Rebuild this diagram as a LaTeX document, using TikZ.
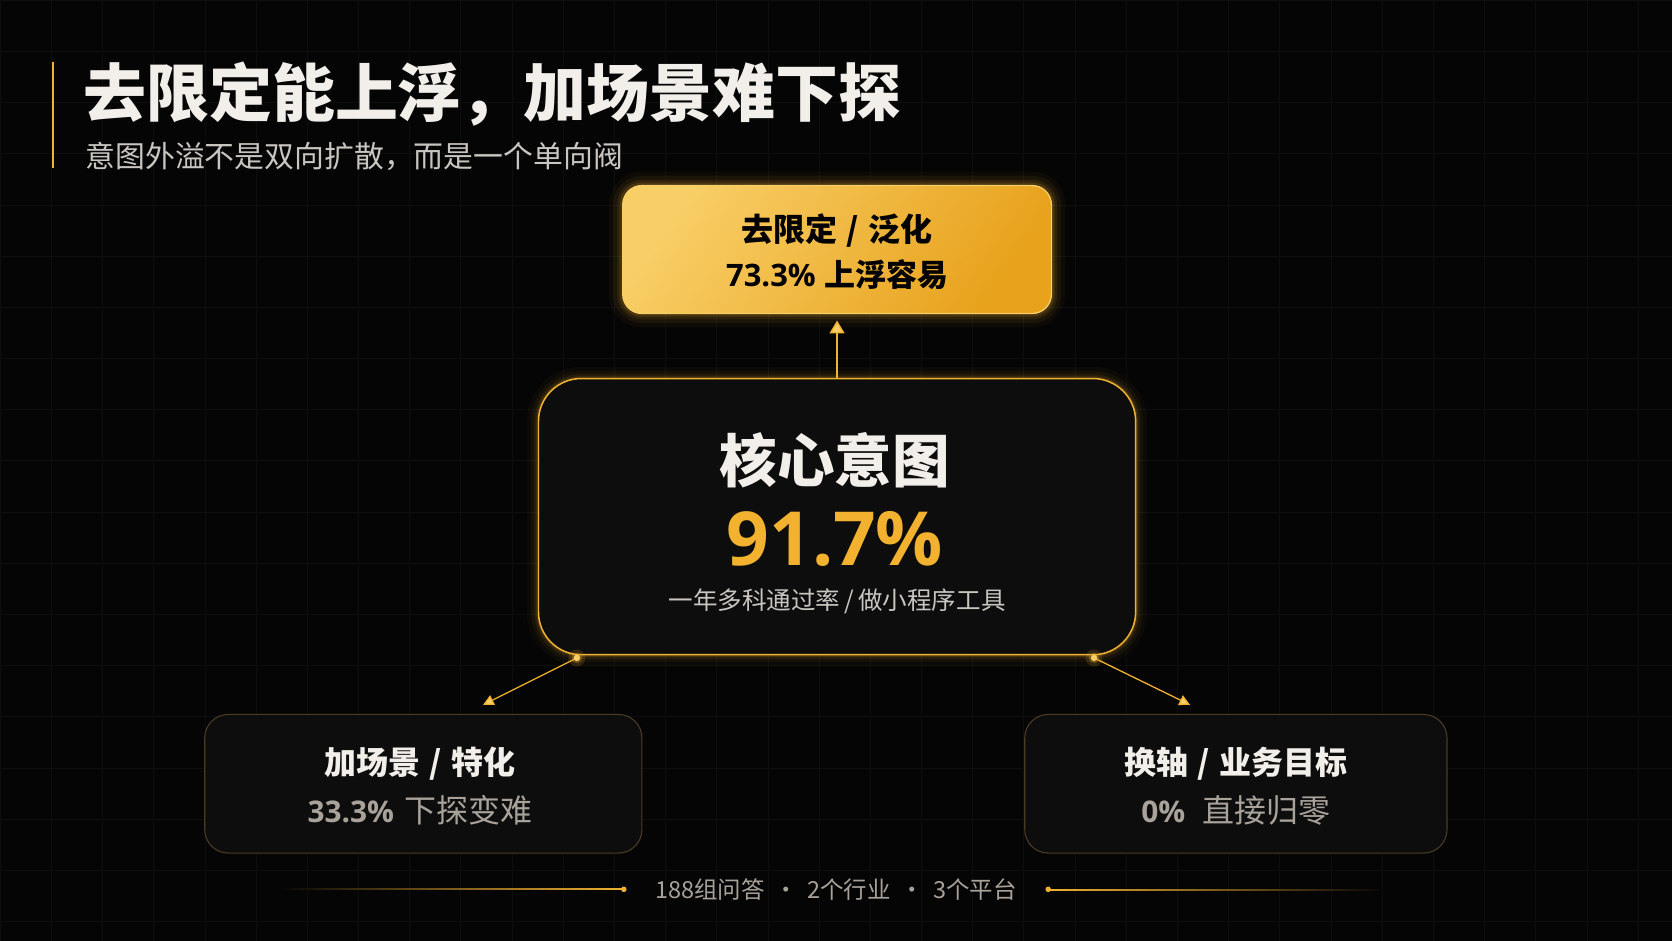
\documentclass[tikz,border=0pt]{standalone}
\usepackage{fontspec}
\setmainfont{Noto Sans CJK SC}
\newfontfamily\lat{Open Sans}
\usetikzlibrary{arrows.meta}
\definecolor{bg}{HTML}{050505}
\definecolor{gridc}{HTML}{0E0E0E}
\definecolor{gold}{HTML}{F2B230}
\definecolor{goldlight}{HTML}{F8CE66}
\definecolor{golddark}{HTML}{E8A21C}
\definecolor{txtw}{HTML}{F2EFEA}
\definecolor{txtsub}{HTML}{C9C6C1}
\definecolor{txtg}{HTML}{A8A29A}
\definecolor{boxbg}{HTML}{0D0D0D}
\definecolor{boxline}{HTML}{4A3D25}
\newcommand{\myslash}{\hspace{9pt}/\hspace{9pt}}
\tikzset{
  fs/.style={font=\fontsize{#1}{#1}\selectfont},
  fsb/.style={font=\fontsize{#1}{#1}\selectfont\bfseries},
  topbox/.style={rounded corners=18pt, draw=goldlight, line width=1.2pt,
    left color=goldlight, right color=golddark, shading angle=55,
    minimum width=402pt, minimum height=120pt, inner sep=0pt},
  corebox/.style={rounded corners=40pt, draw=gold, line width=1.4pt, fill=boxbg,
    minimum width=560pt, minimum height=259pt, inner sep=0pt},
  sidebox/.style={rounded corners=22pt, draw=boxline, line width=1pt, fill=boxbg,
    minimum width=#1, minimum height=130pt, inner sep=0pt},
  goldarrow/.style={draw=gold, line width=1.4pt,
    -{Triangle[width=14pt,length=12pt,fill=goldlight]}},
  goldarrowsm/.style={draw=gold, line width=1.2pt,
    -{Triangle[width=10pt,length=10pt,fill=goldlight]}},
}
\begin{document}
\begin{tikzpicture}[x=1pt,y=-1pt]
\fill[bg] (0,0) rectangle (1568,882);
\useasboundingbox (0,0) rectangle (1568,882);
% faint grid
\foreach \gx in {0,48,...,1568} \draw[gridc, line width=0.4pt] (\gx,0) -- (\gx,882);
\foreach \gy in {0,48,...,882} \draw[gridc, line width=0.4pt] (0,\gy) -- (1568,\gy);

% header
\draw[gold, line width=2pt] (50,58) -- (50,158);
\node[anchor=west, text=txtw, fsb=59, inner sep=0pt] (title) at (78,88) {去限定能上浮，加场景难下探};
\node[anchor=west, text=txtsub, fs=28, inner sep=0pt] (subtitle) at (80,147) {意图外溢不是双向扩散，而是一个单向阀};

% glow of top box
\foreach \w/\o in {26/0.04,18/0.06,11/0.09,6/0.14} {
  \draw[gold, line width=\w pt, opacity=\o, rounded corners=18pt] (584,174) rectangle (986,294);
}
\node[topbox] (top) at (785,234) {};
\node[text=black, fsb=30, inner sep=0pt] (toptxt1) at (785,216) {去限定\myslash 泛化};
\node[text=black, fs=29, inner sep=0pt] (toptxt2) at (785,258) {{\lat\bfseries 73.3\%}\hspace{8pt}{\bfseries 上浮容易}};

% glow of core box
\foreach \w/\o in {22/0.03,14/0.05,8/0.08,4/0.14} {
  \draw[gold, line width=\w pt, opacity=\o, rounded corners=40pt] (505,355) rectangle (1065,614);
}
\node[corebox] (core) at (785,484.5) {};
\node[text=txtw, fsb=54, inner sep=0pt] (coretitle) at (783,432) {核心意图};
\node[text=gold, font=\lat\bfseries\fontsize{70}{70}\selectfont, inner sep=0pt] (corepct) at (783,505) {91.7\%};
\node[text=txtsub, fs=23, inner sep=0pt] (corenote) at (785,564) {一年多科通过率\hspace{4pt}/\hspace{4pt}做小程序工具};

% bottom boxes
\node[sidebox=410pt] (lbox) at (397,735) {};
\node[text=txtw, fsb=30, inner sep=0pt] (ltxt1) at (394,716) {加场景\myslash 特化};
\node[text=txtg, fs=30, inner sep=0pt] (ltxt2) at (394,760) {{\lat\bfseries\fontsize{28}{28}\selectfont 33.3\%}\hspace{10pt}下探变难};
\node[sidebox=396pt] (rbox) at (1159,735) {};
\node[text=txtw, fsb=30, inner sep=0pt] (rtxt1) at (1159,716) {换轴\myslash 业务目标};
\node[text=txtg, fs=30, inner sep=0pt] (rtxt2) at (1159,760) {{\lat\bfseries\fontsize{28}{28}\selectfont 0\%}\hspace{16pt}直接归零};

% connectors
\draw[goldarrow, shorten >=6pt] (core.north) -- (top.south);
\coordinate (dl) at (541,617);
\coordinate (dr) at (1026,617);
\coordinate (tl) at (453,661);
\coordinate (tr) at (1116,661);
\draw[goldarrowsm] (dl) -- (tl);
\draw[goldarrowsm] (dr) -- (tr);
\foreach \p in {dl,dr} {
  \fill[gold, opacity=0.15] (\p) circle (8pt);
  \fill[gold, opacity=0.3] (\p) circle (5pt);
  \fill[goldlight] (\p) circle (3pt);
}

% footer
\node[text=txtg, fs=22, inner sep=0pt] (foot) at (784,834) {188组问答\hspace{9pt}·\hspace{9pt}2个行业\hspace{9pt}·\hspace{9pt}3个平台};
\coordinate (fl) at (585,834);
\coordinate (fr) at (983,834);
\shade[left color=bg, right color=gold] (262,833) rectangle (fl);
\shade[left color=gold, right color=bg] (fr) rectangle (1300,835);
\fill[gold] (fl) circle (2.6pt);
\fill[gold] (fr) circle (2.6pt);
\end{tikzpicture}
\end{document}
